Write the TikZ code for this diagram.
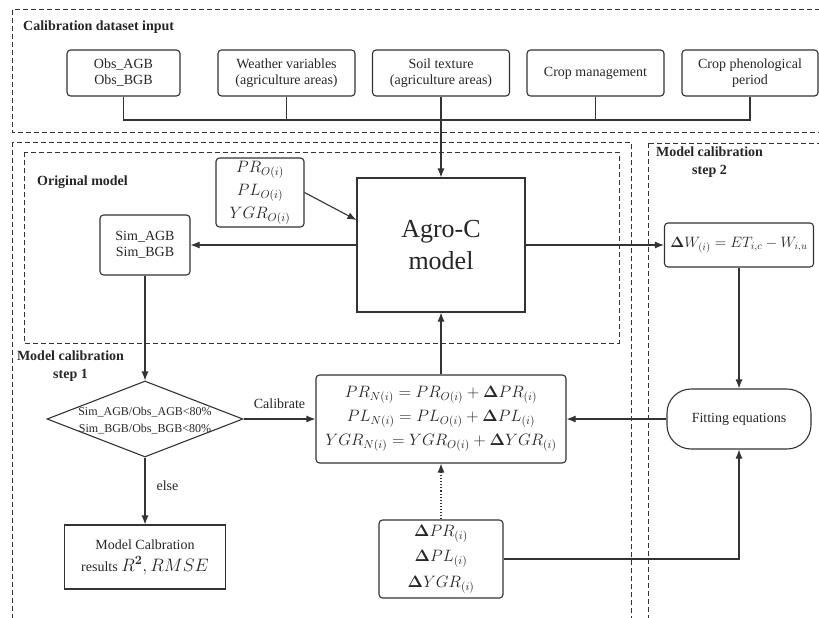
\RequirePackage{fix-cm}
\documentclass[tikz,border=0pt]{standalone}
\usepackage{amsmath}
\usepackage[no-math]{fontspec}
\setmainfont{Liberation Serif}
\usetikzlibrary{arrows.meta,shapes.geometric,calc}
\definecolor{ln}{HTML}{333333}
\definecolor{tx}{HTML}{262626}
\begin{document}
\begin{tikzpicture}[x=1pt,y=-1pt,
  box/.style={draw=ln, line width=1.1pt, rounded corners=3.5pt, align=center, inner sep=0pt, text=tx, font=\fontsize{14}{16}\selectfont},
  sbox/.style={box, sharp corners},
  arr/.style={draw=ln, line width=1.1pt, -{Latex[length=9pt,width=7pt]}},
  ln/.style={draw=ln, line width=1.1pt},
  dbox/.style={draw=ln, line width=1pt, dash pattern=on 5pt off 3pt},
  ttl/.style={font=\fontsize{14}{18}\selectfont\bfseries, text=tx, align=center, inner sep=0pt},
  lbl/.style={font=\fontsize{14}{16}\selectfont, text=tx, inner sep=0pt}
]
\clip (0,0) rectangle (819,618);
% dashed frames
\draw[dbox] (12,10) rectangle (830,132);
\draw[dbox] (12,142) rectangle (631,640);
\draw[dbox] (648,143) rectangle (830,640);
\draw[dbox] (24,152) rectangle (619,343);
% titles
\node[ttl, anchor=west] (t1) at (23,27) {Calibration dataset input};
\node[ttl, anchor=west] (t2) at (37,182) {Original model};
\node[ttl] (t3) at (70.5,366) {Model calibration\\step 1};
\node[ttl] (t4) at (709.5,162.5) {Model calibration\\step 2};
% input boxes
\node[box, minimum width=113pt, minimum height=46pt] (obs) at (123.5,73) {Obs\_AGB\\Obs\_BGB};
\node[box, minimum width=137pt, minimum height=46pt] (weather) at (286.5,73) {Weather variables\\(agriculture areas)};
\node[box, minimum width=137pt, minimum height=46pt] (soil) at (441,73) {Soil texture\\(agriculture areas)};
\node[box, minimum width=137pt, minimum height=46pt] (mgmt) at (595.5,73) {Crop management};
\node[box, minimum width=136pt, minimum height=46pt] (phen) at (750,73) {Crop phenological\\period};
\coordinate (j) at (441,120);
% model
\node[sbox, minimum width=168pt, minimum height=134pt, font=\fontsize{26}{32}\selectfont] (agro) at (441,245) {Agro-C\\model};
\node[box, minimum width=88pt, minimum height=69pt, font=\fontsize{16.5}{23}\selectfont] (pro) at (260,192.5) {$PR_{O(i)}$\\$PL_{O(i)}$\\$YGR_{O(i)}$};
\node[box, minimum width=90pt, minimum height=60pt] (sim) at (145,245) {Sim\_AGB\\Sim\_BGB};
\node[draw=ln, line width=1.1pt, diamond, minimum width=196pt, minimum height=76pt, inner sep=0pt] (dia) at (145,419) {};
\node[text=tx, font=\fontsize{12}{17}\selectfont, align=center, inner sep=0pt] (diat) at (145,421) {Sim\_AGB/Obs\_AGB<80\%\\Sim\_BGB/Obs\_BGB<80\%};
\node[box, minimum width=250pt, minimum height=88pt, font=\fontsize{16.5}{24}\selectfont] (nbox) at (441,419) {$PR_{N(i)} = PR_{O(i)} + \boldsymbol{\Delta} PR_{(i)}$\\$PL_{N(i)} = PL_{O(i)} + \boldsymbol{\Delta} PL_{(i)}$\\$YGR_{N(i)} = YGR_{O(i)} + \boldsymbol{\Delta} YGR_{(i)}$};
\node[sbox, minimum width=161pt, minimum height=64pt, font=\fontsize{14}{22}\selectfont] (res) at (145,557) {Model Calbration\\results \mbox{\fontsize{18}{20}\selectfont$R^{\mathbf{2}}, RMSE$}};
\node[box, minimum width=124pt, minimum height=78pt, font=\fontsize{16.5}{25.5}\selectfont] (delta) at (441,559) {$\boldsymbol{\Delta} PR_{(i)}$\\$\boldsymbol{\Delta} PL_{(i)}$\\$\boldsymbol{\Delta} YGR_{(i)}$};
\node[box, rounded corners=24pt, minimum width=144pt, minimum height=60pt] (fit) at (739,419) {Fitting equations};
\node[box, minimum width=149pt, minimum height=44pt, font=\fontsize{15}{18}\selectfont] (dw) at (739,245) {$\boldsymbol{\Delta} W_{(i)} = ET_{i,c} - W_{i,u}$};
% connectors
\draw[ln] (obs.south) -- (obs.south |- j) -- (phen.south |- j) -- (phen.south);
\draw[ln] (weather.south) -- (weather.south |- j);
\draw[ln] (mgmt.south) -- (mgmt.south |- j);
\draw[arr] (soil.south) -- (agro.north);
\draw[arr] (pro.east) -- ([yshift=25pt]agro.west);
\draw[arr] (agro.west) -- (sim.east);
\draw[arr] (sim.south) -- (dia.north);
\draw[arr] (dia.east) -- node[above=10pt, lbl]{Calibrate} (nbox.west);
\draw[arr] (dia.south) -- node[pos=0.42, right=11pt, lbl]{else} (res.north);
\draw[arr] (nbox.north) -- (agro.south);
\draw[arr, dotted] (delta.north) -- (nbox.south);
\draw[arr] (delta.east) -| (fit.south);
\draw[arr] (fit.west) -- (nbox.east);
\draw[arr] (agro.east) -- (dw.west);
\draw[arr] (dw.south) -- (fit.north);
\end{tikzpicture}
\end{document}
